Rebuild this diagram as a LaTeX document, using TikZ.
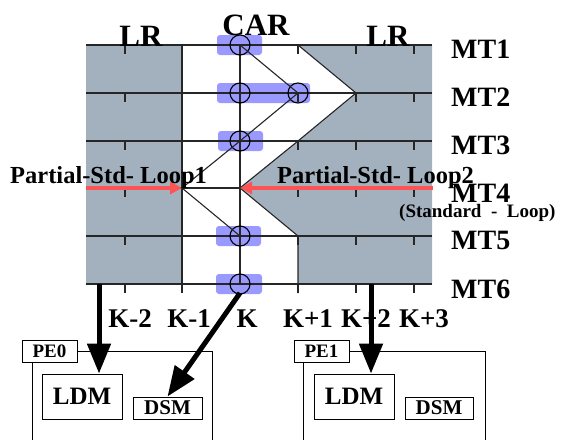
\documentclass[tikz,border=0pt]{standalone}
\usepackage{fontspec}
\setmainfont{Liberation Serif}
\usetikzlibrary{arrows.meta}
\definecolor{grayfill}{RGB}{163,177,191}
\definecolor{bluefill}{RGB}{153,153,255}
\definecolor{redarrow}{RGB}{255,82,82}
\begin{document}
\begin{tikzpicture}[x=1pt,y=-1pt,
  lbl/.style={font=\bfseries\fontsize{#1}{#1}\selectfont, inner sep=0pt},
  gridline/.style={line width=1.1pt, draw=black!85},
  hl/.style={fill=bluefill, rounded corners=3pt},
  ring/.style={circle, draw=black, line width=1.1pt, minimum size=20pt, inner sep=0pt},
  redarr/.style={draw=redarrow, line width=4pt, -{Triangle[length=12pt,width=12pt]}},
  bigarr/.style={draw=black, line width=5pt, -{Triangle[length=30pt,width=23pt]}},
  boxn/.style={draw=black, line width=0.9pt, inner sep=0pt, font=\bfseries\fontsize{#1}{#1}\selectfont},
  outer/.style={draw=black, line width=0.9pt}
]
\useasboundingbox (0,0) rectangle (561,439);

% gray regions
\fill[grayfill] (86,45) rectangle (182,284);
\fill[grayfill] (298,45) -- (432,45) -- (432,284) -- (298,284) -- (298,236) -- (240,188) -- (298,141) -- (356,93) -- cycle;

% blue highlights
\fill[hl] (217,35) rectangle (262,55);
\fill[hl] (217,83) rectangle (310,103);
\fill[hl] (218,131) rectangle (263,151);
\fill[hl] (216,226) rectangle (261,246);
\fill[hl] (216,274) rectangle (262,294);

% MT lines and ticks
\foreach \y in {45,93,141,188,236,284} {
  \draw[gridline] (86,\y) -- (432,\y);
  \foreach \x in {125,298,356,414} \draw[gridline] (\x,\y) -- (\x,{\y+9});
}
% vertical lines
\draw[gridline] (182,45) -- (182,293);
\draw[gridline] (240,45) -- (240,284);

% circles
\node[ring] (c1) at (240,45) {};
\node[ring] (c2) at (240,93) {};
\node[ring] (c2r) at (298,93) {};
\node[ring] (c3) at (240,141) {};
\node[ring] (c5) at (240,236) {};
\node[ring] (c6) at (240,284) {};
\coordinate (p4) at (182,188);

% zigzag
\draw[gridline] (c1.center) -- (c2r.center) -- (c3.center) -- (p4) -- (c5.center);
% boundary
\coordinate (b1) at (298,45);
\coordinate (b2) at (356,93);
\coordinate (b3) at (298,141);
\coordinate (b4) at (240,188);
\coordinate (b5) at (298,236);
\coordinate (b6) at (298,293);
\draw[gridline] (b1) -- (b2) -- (b3) -- (b4) -- (b5) -- (b6);

% red arrows
\coordinate (la) at (86,188);
\coordinate (ra) at (433,188);
\draw[redarr] (la) -- (p4);
\draw[redarr] (ra) -- (b4);

% labels
\node[lbl=31, anchor=base] (lrl) at (141,46) {LR};
\node[lbl=31, anchor=base] (car) at (256,35) {CAR};
\node[lbl=31, anchor=base] (lrr) at (388,46) {LR};
\node[lbl=28, anchor=base west] (mt1) at (451,58) {MT1};
\node[lbl=28, anchor=base west] (mt2) at (451,106) {MT2};
\node[lbl=28, anchor=base west] (mt3) at (451,154) {MT3};
\node[lbl=28, anchor=base west] (mt4) at (451,202) {MT4};
\node[lbl=28, anchor=base west] (mt5) at (451,249) {MT5};
\node[lbl=28, anchor=base west] (mt6) at (451,298) {MT6};
\node[lbl=19, anchor=base west] (std) at (399,217) {(Standard\ \ -\ \ Loop)};
\node[lbl=24.5, anchor=base west] (psl1) at (10,183) {Partial-Std- Loop1};
\node[lbl=24.5, anchor=base west] (psl2) at (277,183) {Partial-Std- Loop2};

\node[lbl=27, anchor=base] (k1) at (130,327) {K-2};
\node[lbl=27, anchor=base] (k2) at (189,327) {K-1};
\node[lbl=27, anchor=base] (k3) at (247,327) {K};
\node[lbl=27, anchor=base] (k4) at (308,327) {K+1};
\node[lbl=27, anchor=base] (k5) at (366,327) {K+2};
\node[lbl=27, anchor=base] (k6) at (424,327) {K+3};

% PE0
\node[boxn=19, minimum width=55pt, minimum height=22pt, fill=white] (pe0) at (49.5,351) {PE0};
\draw[outer] (pe0.east) -- (212,351) -- (212,445);
\draw[outer] (32,362) -- (32,445);
\node[boxn=25, minimum width=80pt, minimum height=45pt] (ldm0) at (82,396.5) {LDM};
\node[boxn=21, minimum width=69pt, minimum height=22pt] (dsm0) at (167.5,408) {DSM};

% PE1
\node[boxn=19, minimum width=55pt, minimum height=22pt, fill=white] (pe1) at (321.5,351) {PE1};
\draw[outer] (pe1.east) -- (485,351) -- (485,445);
\draw[outer] (303,362) -- (303,445);
\node[boxn=25, minimum width=80pt, minimum height=45pt] (ldm1) at (354,396.5) {LDM};
\node[boxn=21, minimum width=68pt, minimum height=22pt] (dsm1) at (439,408) {DSM};

% thick arrows
\coordinate (s0) at (99,284);
\coordinate (s2) at (240,293);
\coordinate (s1) at (371,284);
\draw[bigarr] (s0) -- (s0 |- ldm0.north);
\draw[bigarr] (s2) -- (dsm0.north);
\draw[bigarr] (s1) -- (s1 |- ldm1.north);
\end{tikzpicture}
\end{document}
